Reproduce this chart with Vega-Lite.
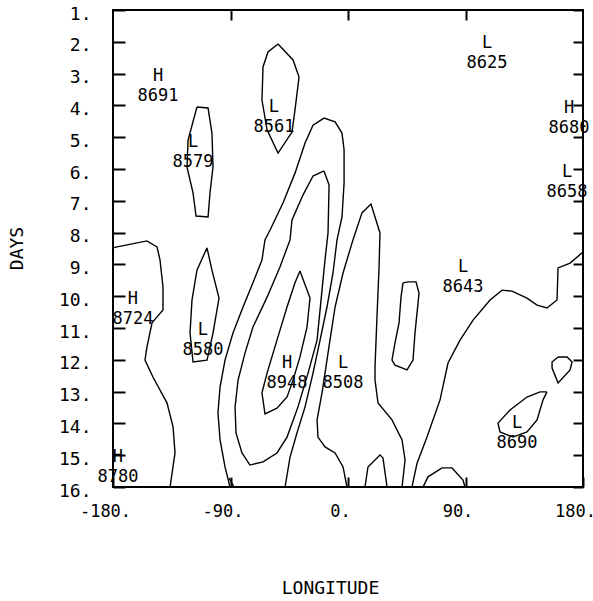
{
  "$schema": "https://vega.github.io/schema/vega-lite/v6.json",
  "width": 470,
  "height": 477,
  "autosize": {"type": "none"},
  "padding": {"left": 113, "top": 10, "right": 10, "bottom": 114},
  "background": "white",
  "config": {
    "view": {"stroke": "black", "strokeWidth": 2},
    "font": "DejaVu Sans Mono",
    "axis": {
      "domain": false,
      "grid": false,
      "tickColor": "black",
      "tickWidth": 2,
      "labelColor": "black",
      "labelFont": "DejaVu Sans Mono",
      "labelFontSize": 18,
      "titleFont": "DejaVu Sans Mono",
      "titleFontSize": 18,
      "titleFontWeight": "normal",
      "titleColor": "black",
      "labelFlush": false,
      "labelOverlap": false
    }
  },
  "datasets": {
    "contours": [
      {"c":"A","i":0,"lon":-53.6,"day":2.07},{"c":"A","i":1,"lon":-42.1,"day":2.57},{"c":"A","i":2,"lon":-37.5,"day":3.11},{"c":"A","i":3,"lon":-40.6,"day":4.14},{"c":"A","i":4,"lon":-42.9,"day":4.84},{"c":"A","i":5,"lon":-53.6,"day":5.5},{"c":"A","i":6,"lon":-62,"day":4.77},{"c":"A","i":7,"lon":-65.9,"day":3.83},{"c":"A","i":8,"lon":-65.1,"day":2.79},{"c":"A","i":9,"lon":-61.3,"day":2.32},{"c":"A","i":10,"lon":-53.6,"day":2.07},
      {"c":"B","i":0,"lon":-115.7,"day":4.05},{"c":"B","i":1,"lon":-107.2,"day":4.08},{"c":"B","i":2,"lon":-104.2,"day":4.87},{"c":"B","i":3,"lon":-103.4,"day":5.94},{"c":"B","i":4,"lon":-105.7,"day":6.75},{"c":"B","i":5,"lon":-107.2,"day":7.51},{"c":"B","i":6,"lon":-116.4,"day":7.48},{"c":"B","i":7,"lon":-118.7,"day":6.75},{"c":"B","i":8,"lon":-123.3,"day":5.94},{"c":"B","i":9,"lon":-122.5,"day":5.09},{"c":"B","i":10,"lon":-115.7,"day":4.05},
      {"c":"C","i":0,"lon":-108,"day":8.48},{"c":"C","i":1,"lon":-104.2,"day":9.18},{"c":"C","i":2,"lon":-98.8,"day":10.06},{"c":"C","i":3,"lon":-103.4,"day":11.16},{"c":"C","i":4,"lon":-108,"day":12.01},{"c":"C","i":5,"lon":-118.7,"day":12.07},{"c":"C","i":6,"lon":-121,"day":11.16},{"c":"C","i":7,"lon":-119.5,"day":10.12},{"c":"C","i":8,"lon":-115.7,"day":9.18},{"c":"C","i":9,"lon":-108,"day":8.48},
      {"c":"D","i":0,"lon":-180,"day":8.48},{"c":"D","i":1,"lon":-176.9,"day":8.45},{"c":"D","i":2,"lon":-154,"day":8.26},{"c":"D","i":3,"lon":-146.3,"day":8.45},{"c":"D","i":4,"lon":-144,"day":8.86},{"c":"D","i":5,"lon":-141.7,"day":9.71},{"c":"D","i":6,"lon":-141.7,"day":10.43},{"c":"D","i":7,"lon":-146.3,"day":10.65},{"c":"D","i":8,"lon":-150.1,"day":10.84},{"c":"D","i":9,"lon":-154,"day":11.6},{"c":"D","i":10,"lon":-155.5,"day":12.01},{"c":"D","i":11,"lon":-149.4,"day":12.54},{"c":"D","i":12,"lon":-138.6,"day":13.36},{"c":"D","i":13,"lon":-134,"day":14.11},{"c":"D","i":14,"lon":-132.5,"day":14.93},{"c":"D","i":15,"lon":-136.3,"day":16},
      {"c":"E","i":0,"lon":-90.4,"day":16},{"c":"E","i":1,"lon":-94.2,"day":15.37},{"c":"E","i":2,"lon":-98,"day":14.52},{"c":"E","i":3,"lon":-99.6,"day":13.67},{"c":"E","i":4,"lon":-98,"day":12.86},{"c":"E","i":5,"lon":-94.2,"day":12.01},{"c":"E","i":6,"lon":-88.1,"day":11.16},{"c":"E","i":7,"lon":-80.4,"day":10.34},{"c":"E","i":8,"lon":-72.8,"day":9.58},{"c":"E","i":9,"lon":-65.9,"day":8.86},{"c":"E","i":10,"lon":-63.6,"day":8.23},{"c":"E","i":11,"lon":-59.7,"day":7.92},{"c":"E","i":12,"lon":-49.8,"day":7.07},{"c":"E","i":13,"lon":-40.6,"day":6.13},{"c":"E","i":14,"lon":-32.9,"day":5.18},{"c":"E","i":15,"lon":-26.8,"day":4.62},{"c":"E","i":16,"lon":-18.4,"day":4.4},{"c":"E","i":17,"lon":-9.9,"day":4.52},{"c":"E","i":18,"lon":-4.6,"day":4.87},{"c":"E","i":19,"lon":-3,"day":5.4},{"c":"E","i":20,"lon":-3,"day":6.44},{"c":"E","i":21,"lon":-4.6,"day":7.51},{"c":"E","i":22,"lon":-8.4,"day":8.23},{"c":"E","i":23,"lon":-11.5,"day":9.27},{"c":"E","i":24,"lon":-16.1,"day":10.34},{"c":"E","i":25,"lon":-21.4,"day":11.38},{"c":"E","i":26,"lon":-26.8,"day":12.42},{"c":"E","i":27,"lon":-32.9,"day":13.48},{"c":"E","i":28,"lon":-39.1,"day":14.3},{"c":"E","i":29,"lon":-44.4,"day":15.06},{"c":"E","i":30,"lon":-48.2,"day":16},
      {"c":"F","i":0,"lon":-18.4,"day":6.06},{"c":"F","i":1,"lon":-14.5,"day":6.5},{"c":"F","i":2,"lon":-15.3,"day":8.01},{"c":"F","i":3,"lon":-17.6,"day":8.86},{"c":"F","i":4,"lon":-19.9,"day":9.81},{"c":"F","i":5,"lon":-23.7,"day":11.38},{"c":"F","i":6,"lon":-30.6,"day":12.42},{"c":"F","i":7,"lon":-38.3,"day":13.48},{"c":"F","i":8,"lon":-46.7,"day":14.43},{"c":"F","i":9,"lon":-54.4,"day":14.93},{"c":"F","i":10,"lon":-65.1,"day":15.21},{"c":"F","i":11,"lon":-75.1,"day":15.31},{"c":"F","i":12,"lon":-81.2,"day":14.93},{"c":"F","i":13,"lon":-85.8,"day":14.3},{"c":"F","i":14,"lon":-86.5,"day":13.48},{"c":"F","i":15,"lon":-84.2,"day":12.64},{"c":"F","i":16,"lon":-78.9,"day":11.79},{"c":"F","i":17,"lon":-72.8,"day":10.97},{"c":"F","i":18,"lon":-62,"day":10.03},{"c":"F","i":19,"lon":-52.1,"day":9.08},{"c":"F","i":20,"lon":-44.4,"day":8.23},{"c":"F","i":21,"lon":-42.9,"day":7.6},{"c":"F","i":22,"lon":-34.5,"day":6.82},{"c":"F","i":23,"lon":-26.8,"day":6.22},{"c":"F","i":24,"lon":-18.4,"day":6.06},
      {"c":"G","i":0,"lon":-36.8,"day":9.21},{"c":"G","i":1,"lon":-29.1,"day":10.06},{"c":"G","i":2,"lon":-31.4,"day":10.97},{"c":"G","i":3,"lon":-36.8,"day":11.91},{"c":"G","i":4,"lon":-42.1,"day":12.64},{"c":"G","i":5,"lon":-46.7,"day":13.17},{"c":"G","i":6,"lon":-54.4,"day":13.52},{"c":"G","i":7,"lon":-63.6,"day":13.7},{"c":"G","i":8,"lon":-65.9,"day":13.04},{"c":"G","i":9,"lon":-62,"day":12.42},{"c":"G","i":10,"lon":-54.4,"day":11.38},{"c":"G","i":11,"lon":-46.7,"day":10.34},{"c":"G","i":12,"lon":-40.6,"day":9.58},{"c":"G","i":13,"lon":-36.8,"day":9.21},
      {"c":"H","i":0,"lon":-0.8,"day":16},{"c":"H","i":1,"lon":-3.8,"day":15.37},{"c":"H","i":2,"lon":-9.9,"day":14.93},{"c":"H","i":3,"lon":-17.6,"day":14.74},{"c":"H","i":4,"lon":-23,"day":14.43},{"c":"H","i":5,"lon":-23.7,"day":13.89},{"c":"H","i":6,"lon":-19.9,"day":13.04},{"c":"H","i":7,"lon":-17.6,"day":12.42},{"c":"H","i":8,"lon":-13.8,"day":11.38},{"c":"H","i":9,"lon":-9.9,"day":10.34},{"c":"H","i":10,"lon":-3.8,"day":9.27},{"c":"H","i":11,"lon":3.8,"day":8.23},{"c":"H","i":12,"lon":10.7,"day":7.38},{"c":"H","i":13,"lon":17.6,"day":7.1},{"c":"H","i":14,"lon":24.5,"day":8.01},{"c":"H","i":15,"lon":23.8,"day":9.08},{"c":"H","i":16,"lon":22.2,"day":10.65},{"c":"H","i":17,"lon":20.7,"day":12.22},{"c":"H","i":18,"lon":20.7,"day":12.64},{"c":"H","i":19,"lon":23,"day":13.36},{"c":"H","i":20,"lon":33.7,"day":13.89},{"c":"H","i":21,"lon":41.4,"day":14.52},{"c":"H","i":22,"lon":43.7,"day":15.15},{"c":"H","i":23,"lon":41.4,"day":16},
      {"c":"I","i":0,"lon":13,"day":16},{"c":"I","i":1,"lon":15.3,"day":15.37},{"c":"I","i":2,"lon":24.5,"day":14.99},{"c":"I","i":3,"lon":26.8,"day":15.09},{"c":"I","i":4,"lon":29.9,"day":16},
      {"c":"J","i":0,"lon":42.1,"day":9.58},{"c":"J","i":1,"lon":46,"day":9.55},{"c":"J","i":2,"lon":52.1,"day":9.55},{"c":"J","i":3,"lon":54.4,"day":9.9},{"c":"J","i":4,"lon":51.3,"day":11.16},{"c":"J","i":5,"lon":49.8,"day":12.01},{"c":"J","i":6,"lon":45.2,"day":12.32},{"c":"J","i":7,"lon":36,"day":12.17},{"c":"J","i":8,"lon":33.7,"day":12.01},{"c":"J","i":9,"lon":36,"day":11.47},{"c":"J","i":10,"lon":39.1,"day":10.84},{"c":"J","i":11,"lon":40.6,"day":10.03},{"c":"J","i":12,"lon":42.1,"day":9.58},
      {"c":"K","i":0,"lon":49,"day":16},{"c":"K","i":1,"lon":52.9,"day":15.25},{"c":"K","i":2,"lon":60.5,"day":14.43},{"c":"K","i":3,"lon":70.5,"day":13.26},{"c":"K","i":4,"lon":76.6,"day":12.1},{"c":"K","i":5,"lon":85.8,"day":11.38},{"c":"K","i":6,"lon":95.8,"day":10.75},{"c":"K","i":7,"lon":108.8,"day":10.12},{"c":"K","i":8,"lon":118,"day":9.81},{"c":"K","i":9,"lon":125.6,"day":9.84},{"c":"K","i":10,"lon":137.1,"day":10.06},{"c":"K","i":11,"lon":144.8,"day":10.28},{"c":"K","i":12,"lon":152.4,"day":10.37},{"c":"K","i":13,"lon":160.1,"day":10.12},{"c":"K","i":14,"lon":160.9,"day":9.11},{"c":"K","i":15,"lon":170.1,"day":8.96},{"c":"K","i":16,"lon":180,"day":8.61},
      {"c":"L","i":0,"lon":57.5,"day":16},{"c":"L","i":1,"lon":61.3,"day":15.68},{"c":"L","i":2,"lon":72,"day":15.4},{"c":"L","i":3,"lon":79.7,"day":15.4},{"c":"L","i":4,"lon":88.1,"day":15.78},{"c":"L","i":5,"lon":89.6,"day":16},
      {"c":"M","i":0,"lon":160.9,"day":11.91},{"c":"M","i":1,"lon":167.8,"day":11.91},{"c":"M","i":2,"lon":171.6,"day":12.07},{"c":"M","i":3,"lon":170.1,"day":12.32},{"c":"M","i":4,"lon":160.9,"day":12.73},{"c":"M","i":5,"lon":156.3,"day":12.26},{"c":"M","i":6,"lon":156.3,"day":12.07},{"c":"M","i":7,"lon":160.9,"day":11.91},
      {"c":"N","i":0,"lon":152.4,"day":13.01},{"c":"N","i":1,"lon":149.4,"day":13.26},{"c":"N","i":2,"lon":144.8,"day":13.89},{"c":"N","i":3,"lon":137.1,"day":14.27},{"c":"N","i":4,"lon":126.4,"day":14.43},{"c":"N","i":5,"lon":116.4,"day":14.27},{"c":"N","i":6,"lon":114.9,"day":13.99},{"c":"N","i":7,"lon":124.1,"day":13.58},{"c":"N","i":8,"lon":137.1,"day":13.17},{"c":"N","i":9,"lon":147.1,"day":13.01},{"c":"N","i":10,"lon":152.4,"day":13.01},
      {"c":"O","i":0,"lon":-91.1,"day":15.72},{"c":"O","i":1,"lon":-87.3,"day":16}
    ],
    "labels": [
      {"k":"H","v":"8691","lon":-145.5,"day":3.08},
      {"k":"L","v":"8561","lon":-56.7,"day":4.05},
      {"k":"L","v":"8579","lon":-118.7,"day":5.15},
      {"k":"L","v":"8625","lon":106.5,"day":2.04},
      {"k":"H","v":"8680","lon":169.3,"day":4.08},
      {"k":"L","v":"8658","lon":167.8,"day":6.09},
      {"k":"H","v":"8724","lon":-164.7,"day":10.09},
      {"k":"L","v":"8580","lon":-111.1,"day":11.06},
      {"k":"H","v":"8948","lon":-46.7,"day":12.1},
      {"k":"H","v":"8780","lon":-176.2,"day":15.06},
      {"k":"L","v":"8508","lon":-3.8,"day":12.1},
      {"k":"L","v":"8643","lon":88.1,"day":9.08},
      {"k":"L","v":"8690","lon":129.5,"day":13.99}
    ]
  },
  "layer": [
    {
      "data": {"name": "contours"},
      "mark": {"type": "line", "color": "black", "strokeWidth": 1.4, "clip": true},
      "encoding": {
        "x": {
          "field": "lon", "type": "quantitative",
          "scale": {"domain": [-180, 180], "nice": false, "zero": false},
          "axis": {
            "orient": "bottom", "values": [-180, -90, 0, 90, 180],
            "tickSize": -10, "labelPadding": 26, "labelBaseline": "top", "labelOffset": -8,
            "labelFontSize": 17,
            "labelExpr": "datum.value + '.'",
            "title": "LONGITUDE", "titleX": 217, "titleY": 101, "titleBaseline": "middle", "titleAlign": "center"
          }
        },
        "y": {
          "field": "day", "type": "quantitative",
          "scale": {"domain": [1, 16], "reverse": true, "nice": false, "zero": false},
          "axis": {
            "orient": "left", "values": [1,2,3,4,5,6,7,8,9,10,11,12,13,14,15,16],
            "tickSize": -12, "labelPadding": 34, "labelOffset": 4,
            "labelExpr": "datum.value + '.'",
            "title": "DAYS", "titleX": -96, "titleY": 238, "titleBaseline": "middle", "titleAlign": "center"
          }
        },
        "detail": {"field": "c"},
        "order": {"field": "i", "type": "quantitative"}
      }
    },
    {
      "data": {"name": "labels"},
      "mark": {"type": "text", "font": "DejaVu Sans Mono", "fontSize": 17, "color": "black", "baseline": "middle"},
      "encoding": {
        "x": {"field": "lon", "type": "quantitative",
              "axis": {"orient": "top", "values": [-90, 0, 90], "tickSize": -10, "labels": false, "title": null}},
        "y": {"field": "day", "type": "quantitative",
              "axis": {"orient": "right", "values": [1,2,3,4,5,6,7,8,9,10,11,12,13,14,15,16], "tickSize": -10, "labels": false, "title": null}},
        "text": {"field": "k"}
      }
    },
    {
      "data": {"name": "labels"},
      "mark": {"type": "text", "font": "DejaVu Sans Mono", "fontSize": 17, "color": "black", "baseline": "middle", "dy": 20},
      "encoding": {
        "x": {"field": "lon", "type": "quantitative", "axis": null},
        "y": {"field": "day", "type": "quantitative", "axis": null},
        "text": {"field": "v"}
      }
    }
  ],
  "resolve": {"axis": {"x": "independent", "y": "independent"}}
}
